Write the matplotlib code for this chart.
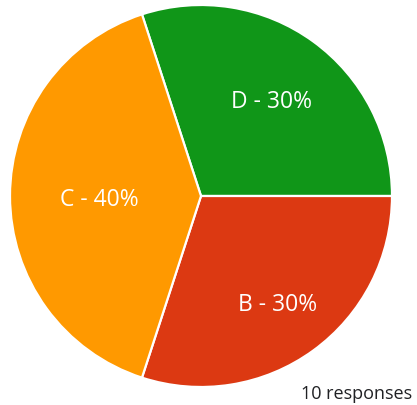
import numpy as np
import matplotlib.pyplot as plt

# response counts per answer
labels = ['D', 'B', 'C']
counts = [3, 3, 4]
colors = ['#109618', '#DC3912', '#FF9900']
# how far out each label sits (fraction of radius)
label_dist = [0.63, 0.68, 0.53]

total = sum(counts)

fig = plt.figure(figsize=(4.17, 4.05), dpi=100)
ax = fig.add_axes([10 / 417, 18 / 405, 382 / 417, 382 / 405])

wedges, _ = ax.pie(counts, colors=colors, startangle=108, counterclock=False,
                   radius=1, wedgeprops=dict(edgecolor='white', linewidth=1.6))

for w, lab, n, d in zip(wedges, labels, counts, label_dist):
    mid = np.deg2rad((w.theta1 + w.theta2) / 2)
    ax.text(d * np.cos(mid), d * np.sin(mid) - 0.02, f'{lab} - {round(100 * n / total)}%',
            ha='center', va='center', color='white', fontsize=16.5, family='Open Sans')

ax.set_xlim(-1, 1)
ax.set_ylim(-1, 1)
ax.set_aspect('auto')
ax.axis('off')

fig.text(412 / 417, 11 / 405, f'{total} responses', ha='right', va='center',
         fontsize=13, family='Open Sans', color='#202124')

fig.savefig('out.png', dpi=100)
